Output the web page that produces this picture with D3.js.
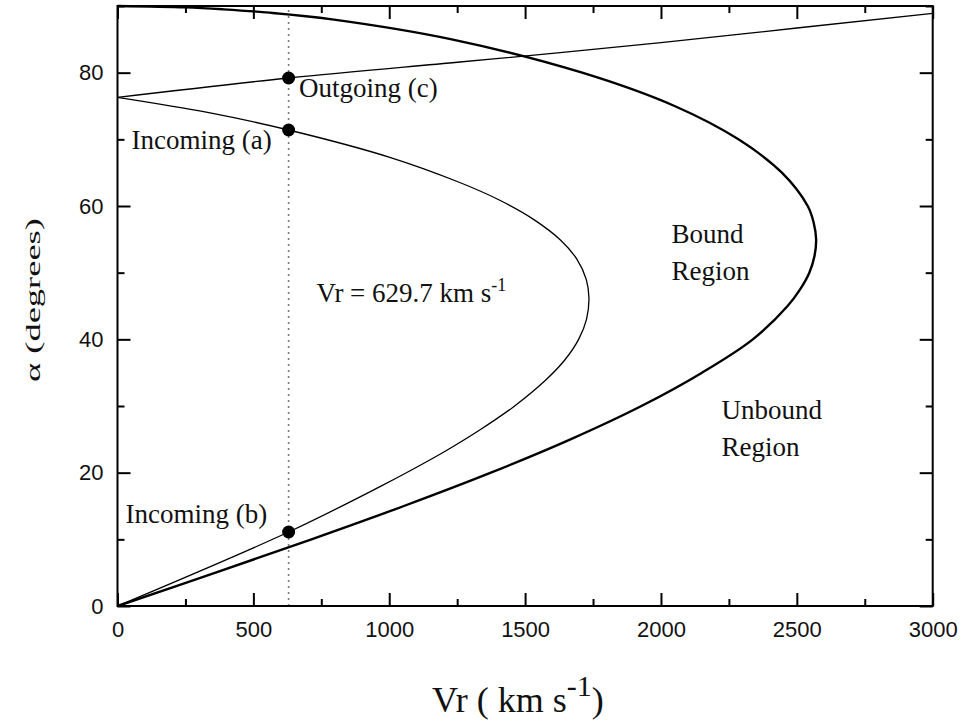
<!DOCTYPE html>
<html>
<head>
<meta charset="utf-8">
<script src="https://cdn.jsdelivr.net/npm/d3@7"></script>
<style>
  html, body { margin: 0; padding: 0; background: #fff; }
  svg { display: block; }
  .serif { font-family: "Liberation Serif", "Times New Roman", serif; fill: #111; }
  .tick text { font-family: "Liberation Sans", Arial, sans-serif; font-size: 22px; fill: #111; }
  .tick line { stroke: #000; stroke-width: 2px; }
</style>
</head>
<body>
<script>
// Boundary between bound and unbound orbits, listed by alpha (degrees) with Vr (km/s)
const boundAlpha = [0, 5, 10, 15, 20, 25, 30, 35, 40, 45, 47.5, 50, 52.5, 55, 57.5, 60, 65, 70, 75, 80, 85, 88, 89, 89.5, 89.8, 90];
const boundVr    = [0, 361, 714, 1054, 1374, 1667, 1928, 2151, 2338, 2466, 2512, 2546, 2565, 2571, 2562, 2540, 2445, 2285, 2050, 1710, 1230, 790, 560, 390, 250, 0];

// Incoming solutions for the measured Vr = 629.7 km/s
const incomingAlpha = [0, 11.1, 17.9, 20.4, 23.1, 26.4, 29.9, 33.9, 36.9, 40.0, 43.0, 46.2, 49.0, 52.0, 54.9, 58.0, 60.9, 63.6, 67.3, 71.4, 74.0, 76.3];
const incomingVr    = [0, 629.7, 966, 1082, 1201, 1333, 1458, 1576, 1646, 1697, 1726, 1735, 1725, 1691, 1630, 1531, 1405, 1255, 1002, 629.7, 336, 0];

// Outgoing solution
const outgoingVr    = [0, 629.7, 1260, 1629, 2000, 2500, 3000];
const outgoingAlpha = [76.3, 79.2, 81.6, 83.0, 84.5, 86.7, 88.9];

// Marked solutions at the measured velocity
const markerVr = 629.7;
const markerAlpha = [79.2, 71.4, 11.1];

// Axis ticks
const xMajorTicks = [0, 500, 1000, 1500, 2000, 2500, 3000];
const xMinorTicks = [250, 750, 1250, 1750, 2250, 2750];
const yMajorTicks = [0, 20, 40, 60, 80];
const yMinorTicks = [10, 30, 50, 70, 90];

const W = 964, H = 722;
const plotLeft = 117.5, plotRight = 932.7, plotTop = 6, plotBottom = 606;

const svg = d3.select("body").append("svg").attr("width", W).attr("height", H);

const x = d3.scaleLinear().domain([0, 3000]).range([plotLeft, plotRight]);
const y = d3.scaleLinear().domain([0, 90]).range([plotBottom, plotTop]);

// points as [Vr, alpha]
const pts = (vr, al) => vr.map((v, i) => [v, al[i]]);
const lineSmooth = d3.line().x(d => x(d[0])).y(d => y(d[1])).curve(d3.curveCatmullRom.alpha(0.5));
const lineX = d3.line().x(d => x(d[0])).y(d => y(d[1])).curve(d3.curveMonotoneX);

// dotted marker line at the measured velocity
svg.append("line")
  .attr("x1", x(markerVr)).attr("x2", x(markerVr))
  .attr("y1", y(0)).attr("y2", y(90))
  .attr("stroke", "#7a7a7a").attr("stroke-width", 1.6)
  .attr("stroke-dasharray", "2,4");

// curves
svg.append("path")
  .attr("d", lineSmooth(pts(boundVr, boundAlpha)))
  .attr("fill", "none").attr("stroke", "#000").attr("stroke-width", 2.4);

svg.append("path")
  .attr("d", lineSmooth(pts(incomingVr, incomingAlpha)))
  .attr("fill", "none").attr("stroke", "#000").attr("stroke-width", 1.3);

svg.append("path")
  .attr("d", lineX(pts(outgoingVr, outgoingAlpha)))
  .attr("fill", "none").attr("stroke", "#000").attr("stroke-width", 1.3);

// markers
svg.selectAll("circle.marker")
  .data(markerAlpha)
  .join("circle")
  .attr("class", "marker")
  .attr("cx", x(markerVr)).attr("cy", d => y(d))
  .attr("r", 6.5).attr("fill", "#000");

// axes: inward ticks on all four sides
function addAxis(axis, tx, ty, withLabels) {
  const g = svg.append("g").attr("transform", `translate(${tx},${ty})`).call(axis);
  g.select(".domain").remove();
  if (!withLabels) g.selectAll("text").remove();
  else g.selectAll("text").attr("font-size", 22).attr("font-family", "Liberation Sans, Arial, sans-serif");
  return g;
}

addAxis(d3.axisBottom(x).tickValues(xMajorTicks).tickSize(-13).tickPadding(15).tickFormat(d3.format("d")), 0, plotBottom, true);
addAxis(d3.axisBottom(x).tickValues(xMinorTicks).tickSize(-7), 0, plotBottom, false);
addAxis(d3.axisTop(x).tickValues(xMajorTicks).tickSize(-13), 0, plotTop, false);
addAxis(d3.axisTop(x).tickValues(xMinorTicks).tickSize(-7), 0, plotTop, false);

addAxis(d3.axisLeft(y).tickValues(yMajorTicks).tickSize(-13).tickPadding(14).tickFormat(d3.format("d")), plotLeft, 0, true);
addAxis(d3.axisLeft(y).tickValues(yMinorTicks).tickSize(-7), plotLeft, 0, false);
addAxis(d3.axisRight(y).tickValues(yMajorTicks).tickSize(-13), plotRight, 0, false);
addAxis(d3.axisRight(y).tickValues(yMinorTicks).tickSize(-7), plotRight, 0, false);

// frame
svg.append("rect")
  .attr("x", plotLeft).attr("y", plotTop)
  .attr("width", plotRight - plotLeft).attr("height", plotBottom - plotTop)
  .attr("fill", "none").attr("stroke", "#000").attr("stroke-width", 2);

// annotations
function label(txt, px, py, size) {
  return svg.append("text").attr("class", "serif")
    .attr("x", px).attr("y", py).attr("font-size", size).text(txt);
}
label("Outgoing (c)", 299, 97, 27);
label("Incoming (a)", 131.5, 149, 27);
label("Incoming (b)", 125.5, 522.5, 27);
label("Bound", 671.5, 243, 27);
label("Region", 671.5, 280, 27);
label("Unbound", 721.5, 419, 27);
label("Region", 721.5, 456, 27);

const vrLabel = svg.append("text").attr("class", "serif")
  .attr("x", 316.5).attr("y", 302).attr("font-size", 27);
vrLabel.append("tspan").text("Vr = 629.7 km s");
vrLabel.append("tspan").attr("font-size", 18).attr("dy", -11).text("-1");

// axis titles
const xTitle = svg.append("text").attr("class", "serif")
  .attr("x", 432).attr("y", 712).attr("font-size", 36);
xTitle.append("tspan").text("Vr ( km s");
xTitle.append("tspan").attr("font-size", 30).attr("dy", -16).text("-1");
xTitle.append("tspan").attr("dy", 16).text(")");

svg.append("text").attr("class", "serif")
  .attr("transform", "translate(40,382) rotate(-90)")
  .attr("x", 0).attr("y", 0)
  .attr("font-size", 22)
  .attr("textLength", 164).attr("lengthAdjust", "spacingAndGlyphs")
  .text("α (degrees)");
</script>
</body>
</html>
